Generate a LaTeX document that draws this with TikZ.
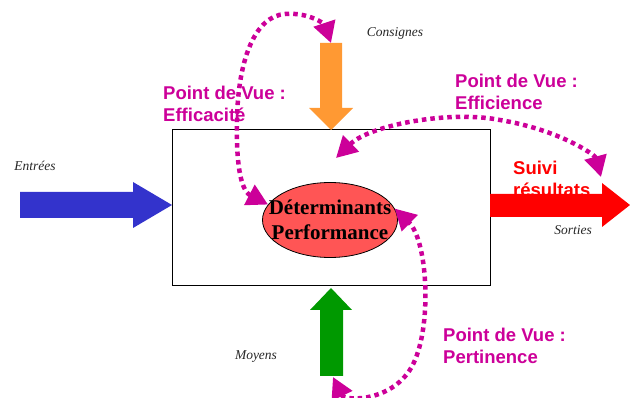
\documentclass[tikz,border=0pt]{standalone}
\usepackage{fontspec}
\setmainfont{Liberation Serif}
\newfontfamily\arialfont{Liberation Sans}
\usetikzlibrary{shapes.geometric,arrows.meta}
\definecolor{povcol}{RGB}{204,0,153}
\definecolor{consorange}{RGB}{255,153,51}
\definecolor{entblue}{RGB}{51,51,204}
\definecolor{moygreen}{RGB}{0,153,0}
\definecolor{detred}{RGB}{255,85,85}

\begin{document}
\begin{tikzpicture}[x=1pt,y=-1pt,
    pvtext/.style={text=povcol,font=\arialfont\bfseries\fontsize{18.5}{22}\selectfont,align=left,anchor=west,inner sep=0pt},
    iolabel/.style={font=\itshape\fontsize{13.5}{15}\selectfont,text=black!85},
    dotlink/.style={povcol,line width=4.5pt,dash pattern=on 4.5pt off 4pt,
        {Triangle[length=21pt,width=22pt]}-{Triangle[length=21pt,width=22pt]}}]
            \useasboundingbox (0,0) rectangle (630,398);
            \node[draw,line width=1pt,minimum width=318pt,minimum height=156pt] (box) at (331,208) {};
            \node[ellipse,draw,line width=0.8pt,fill=detred,minimum width=135pt,minimum height=75pt] (det) at (330,220) {};
            \node[font=\bfseries\fontsize{21}{25}\selectfont,align=center] (dettxt) at (det.center) {Déterminants\\Performance};
            % block arrows
            \fill[entblue] (20,192) -- (133,192) -- (133,182) -- (172,205) -- (133,228) -- (133,218) -- (20,218) -- cycle;
            \fill[consorange] (320,43) -- (342,43) -- (342,108) -- (353,108) -- (331,130) -- (309,108) -- (320,108) -- cycle;
            \fill[moygreen] (320,376) -- (343,376) -- (343,310) -- (352,310) -- (331,288) -- (310,310) -- (320,310) -- cycle;
            \node[text=red,font=\arialfont\bfseries\fontsize{18.5}{22}\selectfont,align=left,anchor=west,inner sep=0pt] (suivi) at (513,179) {Suivi\\résultats};
            \fill[red] (490,194) -- (602,194) -- (602,183) -- (630,205) -- (602,227) -- (602,217) -- (490,217) -- cycle;
            \coordinate (constop) at (331,43);
            \coordinate (moybot) at (333,377);
            \coordinate (sortie) at (601,177);
            \coordinate (dettop) at (336,158);
            % labels
            \node[iolabel] (cons) at (395,33) {Consignes};
            \node[iolabel] (ent) at (35,166) {Entrées};
            \node[iolabel] (moy) at (256,357) {Moyens};
            \node[iolabel] (sort) at (573,230) {Sorties};
            \node[pvtext] (efficacite) at (163,104) {Point de Vue :\\Efficacité};
            \node[pvtext] (efficience) at (455,92) {Point de Vue :\\Efficience};
            \node[pvtext] (pertinence) at (443,346) {Point de Vue :\\Pertinence};
            % points of view
            \draw[dotlink] (det.166) .. controls (240,190) and (236,160) .. (237,120) .. controls (238,60) and (255,16) .. (285,14) .. controls (310,12) and (325,25) .. (constop);
            \draw[dotlink] (dettop) .. controls (370,125) and (450,110) .. (500,120) .. controls (560,130) and (595,155) .. (sortie);
            \draw[dotlink] (moybot) .. controls (345,402) and (398,402) .. (415,360) .. controls (432,320) and (427,240) .. (det.10);
\end{tikzpicture}
\end{document}
